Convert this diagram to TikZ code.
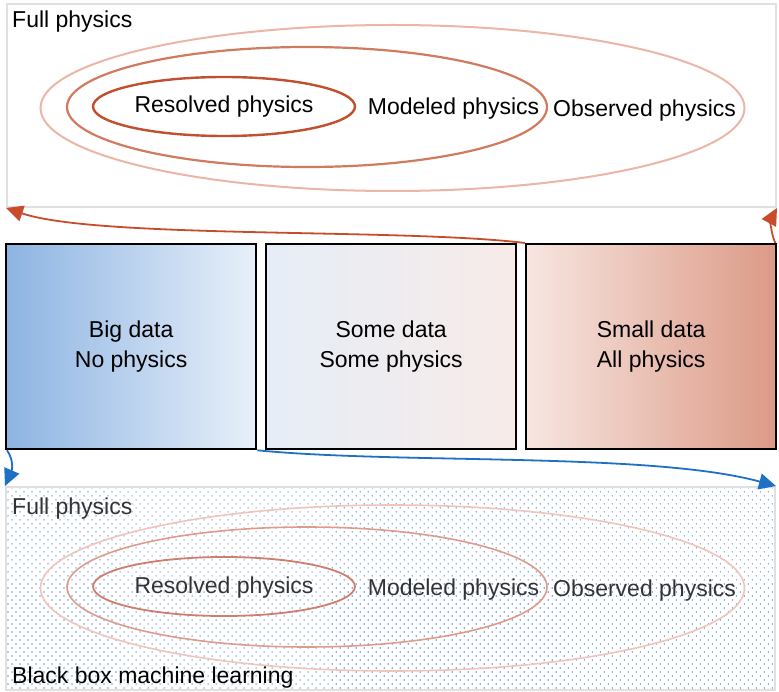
\documentclass[tikz,border=0pt]{standalone}
\usepackage{fontspec}
\setmainfont{Liberation Sans}
\usetikzlibrary{shapes.geometric,arrows.meta,patterns.meta}
\definecolor{panelgray}{HTML}{E0E0E0}
\definecolor{redA}{HTML}{C0502E}
\definecolor{redB}{HTML}{D07A5E}
\definecolor{redC}{HTML}{EBB6A6}
\definecolor{redAl}{HTML}{CF7E6C}
\definecolor{redBl}{HTML}{E09A8A}
\definecolor{redCl}{HTML}{F0C4B8}
\definecolor{arrred}{HTML}{C84B2A}
\definecolor{arrblue}{HTML}{1F6FC6}
\definecolor{dotblue}{HTML}{4A8AD4}
\definecolor{bOneL}{HTML}{8DB4E2}
\definecolor{bOneR}{HTML}{E8F0F9}
\definecolor{bTwoL}{HTML}{E6EDF7}
\definecolor{bTwoR}{HTML}{F7EBE8}
\definecolor{bThrL}{HTML}{F7E6E1}
\definecolor{bThrR}{HTML}{DC9A86}
\definecolor{darktext}{HTML}{333333}
\tikzset{
  panel/.style={draw=panelgray, line width=2, rectangle, anchor=north west, inner sep=0, minimum width=769, minimum height=203},
  ell/.style={ellipse, draw, inner sep=0},
  lbl/.style={anchor=base, inner sep=0, font=\fontsize{23}{27}\selectfont},
  lblw/.style={anchor=base west, inner sep=0, font=\fontsize{23}{27}\selectfont},
  databox/.style={rectangle, draw=black, line width=2.3, anchor=north west, minimum width=250, minimum height=205, inner sep=0, align=center, font=\fontsize{23}{30}\selectfont, shading=axis, shading angle=90},
  arr/.style={line width=1.8, -{Triangle[length=17pt,width=16pt]}}
}
\begin{document}
\begin{tikzpicture}[x=1pt,y=-1pt]
\useasboundingbox (0,0) rectangle (779,692);
% top panel
\node[panel] (top) at (6,3) {};
\node[lblw] (topt) at (12,28) {Full physics};
\node[ell, draw=redC, line width=2, minimum width=704, minimum height=166] (obs) at (392.5,108) {};
\node[ell, draw=redB, line width=2.2, minimum width=480, minimum height=120] (mod) at (307,107) {};
\node[ell, draw=redA, line width=2.4, minimum width=262, minimum height=59] (res) at (224,106.5) {};
\node[lbl] (rest) at (224,113) {Resolved physics};
\node[lbl] (modt) at (453.5,115) {Modeled physics};
\node[lbl] (obst) at (644.5,116.5) {Observed physics};
% data boxes
\node[databox, left color=bOneL, right color=bOneR] (b1) at (5,243) {Big data\\No physics};
\node[databox, left color=bTwoL, right color=bTwoR] (b2) at (265,243) {Some data\\Some physics};
\node[databox, left color=bThrL, right color=bThrR] (b3) at (525,243) {Small data\\All physics};
% bottom panel
\node[panel, pattern={Dots[distance=5.66pt,radius=0.8pt,angle=45]}, pattern color=dotblue] (bot) at (5,486) {};
\node[lblw, text=darktext] (bott) at (12,514) {Full physics};
\node[lblw, text=black] (bbml) at (12,683) {Black box machine learning};
\node[ell, draw=redCl, line width=1.6, minimum width=704, minimum height=166] (obs2) at (392.5,588) {};
\node[ell, draw=redBl, line width=1.6, minimum width=480, minimum height=120] (mod2) at (307,587) {};
\node[ell, draw=redAl, line width=1.8, minimum width=262, minimum height=59] (res2) at (224,586.5) {};
\node[lbl, text=darktext] (rest2) at (224,593) {Resolved physics};
\node[lbl, text=darktext] (modt2) at (453.5,595) {Modeled physics};
\node[lbl, text=darktext] (obst2) at (644.5,596.5) {Observed physics};
% connectors
\draw[arr, arrred] (b3.north west) .. controls +(-123,-15) and +(92,31) .. (top.south west);
\draw[arr, arrred] ([xshift=-2]b3.north east) .. controls +(-5,-11) and +(-6,11) .. (top.south east);
\draw[arr, arrblue] ([xshift=2]b1.south west) .. controls +(7,10) and +(7,-16) .. (bot.north west);
\draw[arr, arrblue] (b1.south east) .. controls +(145,14) and +(-125,-34) .. (bot.north east);
\end{tikzpicture}
\end{document}
